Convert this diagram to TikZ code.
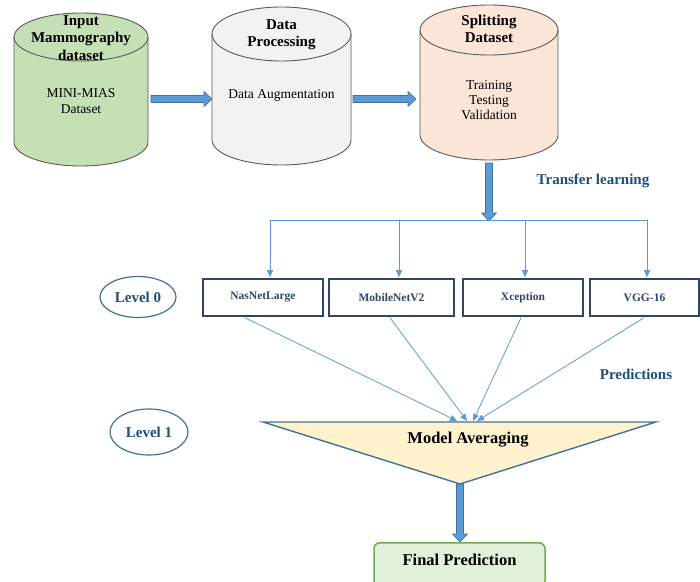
\documentclass[tikz,border=0pt]{standalone}
\usepackage{fontspec}
\setmainfont{Liberation Serif}
\usetikzlibrary{arrows.meta,calc,shapes.geometric}
\definecolor{cgreen}{HTML}{C5E0B4}
\definecolor{cgray}{HTML}{F2F2F2}
\definecolor{cpeach}{HTML}{FBE5D6}
\definecolor{cedge}{HTML}{595959}
\definecolor{cblue}{HTML}{5B9BD5}
\definecolor{cdblue}{HTML}{41719C}
\definecolor{ctext}{HTML}{1F4E79}
\definecolor{cnavy}{HTML}{2F4468}
\definecolor{ctri}{HTML}{FFF2CC}
\definecolor{cfin}{HTML}{E2F0D9}
\definecolor{cfinedge}{HTML}{70AD47}
\tikzset{
  x=1pt,y=1pt,
  cyledge/.style={draw=cedge,line width=0.9pt},
  blockfill/.style={fill=cblue,draw=cdblue,line width=0.6pt,line join=miter},
  thinarrow/.style={draw=cblue,line width=0.8pt,-{Triangle[length=7pt,width=6pt]}},
  thinline/.style={draw=cblue,line width=0.8pt},
  model/.style={draw=cnavy,line width=1.6pt,minimum height=37pt,inner sep=0pt,font=\fontsize{11.5}{13}\selectfont\bfseries,text=cnavy},
  level/.style={draw=cdblue,line width=1.2pt,ellipse,fill=white,font=\fontsize{15}{17}\selectfont\bfseries,text=ctext},
  head/.style={align=center,font=\fontsize{15}{17.5}\selectfont\bfseries,text=black},
  body/.style={align=center,font=\fontsize{13.5}{15.5}\selectfont,text=black},
  note/.style={font=\fontsize{15}{17}\selectfont\bfseries,text=ctext},
}
% block arrow to the right: #1 start, #2 end
\newcommand{\blockR}[2]{\draw[blockfill] ($(#1)+(0,3.5)$) -- ($(#2)+(-8,3.5)$) -- ($(#2)+(-8,7.5)$) -- (#2) -- ($(#2)+(-8,-7.5)$) -- ($(#2)+(-8,-3.5)$) -- ($(#1)+(0,-3.5)$) -- cycle;}
% block arrow downward: #1 start, #2 end
\newcommand{\blockD}[2]{\draw[blockfill] ($(#1)+(-3.5,0)$) -- ($(#2)+(-3.5,8)$) -- ($(#2)+(-7.5,8)$) -- (#2) -- ($(#2)+(7.5,8)$) -- ($(#2)+(3.5,8)$) -- ($(#1)+(3.5,0)$) -- cycle;}
\begin{document}
\begin{tikzpicture}
\useasboundingbox (0,0) rectangle (700,581);
% ---- cylinders ----
% green
\fill[cgreen] (14,544) -- (14,439) arc[start angle=180,end angle=360,x radius=67,y radius=24] -- (148,544) -- cycle;
\fill[cgreen] (81,544) ellipse [x radius=67,y radius=24];
\draw[cyledge] (14,544) -- (14,439) arc[start angle=180,end angle=360,x radius=67,y radius=24] -- (148,544);
\draw[cyledge] (81,544) ellipse [x radius=67,y radius=24];
% gray
\fill[cgray] (212,547) -- (212,441) arc[start angle=180,end angle=360,x radius=69.5,y radius=25] -- (351,547) -- cycle;
\fill[cgray] (281.5,547) ellipse [x radius=69.5,y radius=27];
\draw[cyledge] (212,547) -- (212,441) arc[start angle=180,end angle=360,x radius=69.5,y radius=25] -- (351,547);
\draw[cyledge] (281.5,547) ellipse [x radius=69.5,y radius=27];
% peach
\fill[cpeach] (420,551) -- (420,446) arc[start angle=180,end angle=360,x radius=69,y radius=25] -- (558,551) -- cycle;
\fill[cpeach] (489,551) ellipse [x radius=69,y radius=25];
\draw[cyledge] (420,551) -- (420,446) arc[start angle=180,end angle=360,x radius=69,y radius=25] -- (558,551);
\draw[cyledge] (489,551) ellipse [x radius=69,y radius=25];
% cylinder texts
\node[head] (gh) at (81,543) {Input\\Mammography\\dataset};
\node[body] (gb) at (81,480) {MINI-MIAS\\Dataset};
\node[head] (yh) at (281.5,546) {Data\\Processing};
\node[body] (yb) at (281.5,486) {Data Augmentation};
\node[head] (ph) at (489,552) {Splitting\\Dataset};
\node[body,font=\fontsize{13.5}{15}\selectfont] (pb) at (489,481) {Training\\Testing\\Validation};
% anchor coordinates
\coordinate (gR) at (151,482);
\coordinate (yL) at (212,482);
\coordinate (yR) at (353,482);
\coordinate (pL) at (416,482);
\coordinate (pB) at (489,418);
\coordinate (hub) at (489,360);
% block arrows
\blockR{gR}{yL}
\blockR{yR}{pL}
\blockD{pB}{hub}
\node[note] (tl) at (593,400) {Transfer learning};
% ---- models ----
\node[model,minimum width=120pt] (m1) at (263,283.5) {NasNetLarge};
\node[model,minimum width=125pt] (m2) at (391.5,283.5) {MobileNetV2};
\node[model,minimum width=119.5pt] (m3) at (523,283.5) {Xception};
\node[model,minimum width=109pt] (m4) at (644.5,283.5) {VGG-16};
\draw[thinline] (270,361) -- (647,361);
\draw[thinarrow] (270,361) -- ($(m1.north)+(7,1)$);
\draw[thinarrow] (399,361) -- ($(m2.north)+(7.5,1)$);
\draw[thinarrow] (525,361) -- ($(m3.north)+(2,1)$);
\draw[thinarrow] (647,361) -- ($(m4.north)+(2.5,1)$);
\node[level,minimum width=76pt,minimum height=41pt,inner sep=0pt] (l0) at (138,284) {Level 0};
% ---- averaging ----
\coordinate (tA) at (263,159);
\coordinate (tB) at (656,159);
\coordinate (tC) at (460,97);
\fill[ctri] (tA) -- (tB) -- (tC) -- cycle;
\draw[draw=cdblue,line width=1.4pt,line join=miter] (tA) -- (tB) -- (tC) -- cycle;
\node[font=\fontsize{16.5}{18}\selectfont\bfseries] (ma) at (468,141) {Model Averaging};
\coordinate (e1) at (457,160);
\coordinate (e2) at (467,160);
\coordinate (e3) at (473,160);
\coordinate (e4) at (477,160);
\draw[thinarrow] ($(m1.south)+(-18,-1)$) -- (e1);
\draw[thinarrow] ($(m2.south)+(-1.5,-1)$) -- (e2);
\draw[thinarrow] ($(m3.south)+(-2,-1)$) -- (e3);
\draw[thinarrow] ($(m4.south)+(-0.5,-1)$) -- (e4);
\node[note] (pr) at (636,207) {Predictions};
\node[level,minimum width=78pt,minimum height=46pt,inner sep=0pt] (l1) at (149,149) {Level 1};
% ---- final ----
\node[draw=cfinedge,fill=cfin,line width=1.5pt,rounded corners=6pt,minimum width=171pt,minimum height=44pt,inner sep=0pt,anchor=north] (fp) at (459.5,39) {};
\node[font=\fontsize{16.5}{18}\selectfont\bfseries] (fpt) at (459.5,21) {Final Prediction};
\coordinate (apex) at (460,97);
\coordinate (fpin) at (apex |- fp.north);
\blockD{apex}{fpin}
\end{tikzpicture}
\end{document}
